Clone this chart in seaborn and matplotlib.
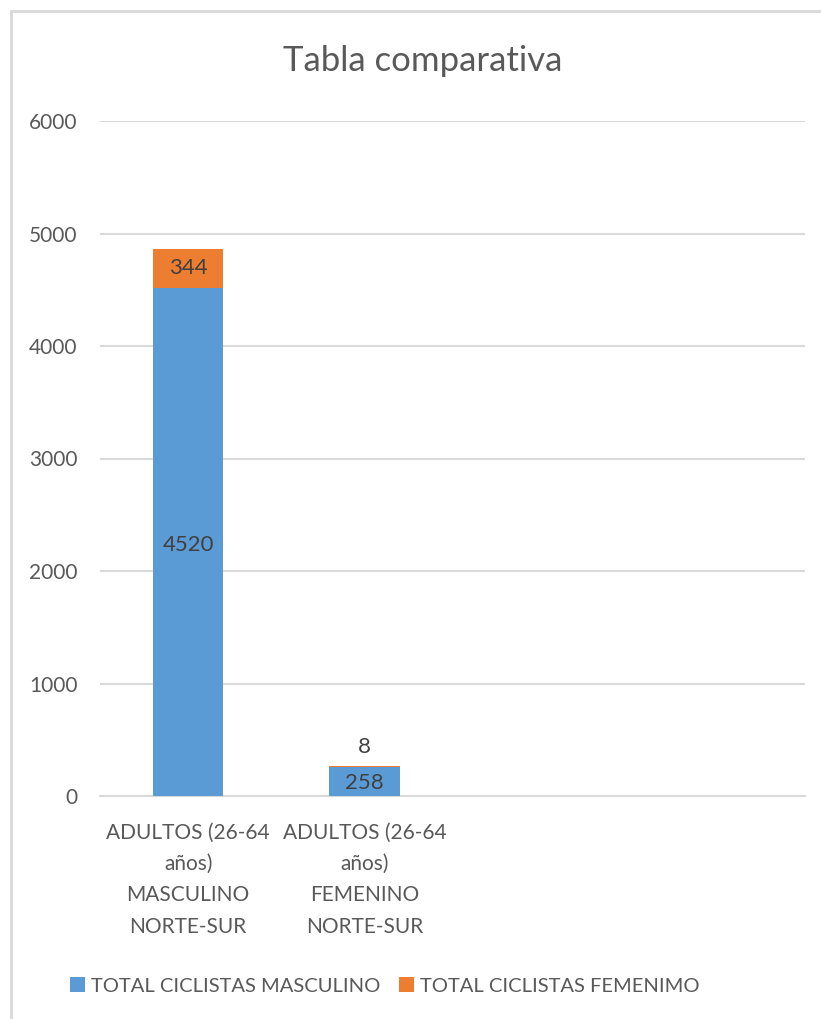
import matplotlib
matplotlib.use("Agg")
import matplotlib.pyplot as plt
from matplotlib.lines import Line2D
from matplotlib.patches import Patch
import seaborn as sns
import pandas as pd

# Data
categories = [
    "ADULTOS (26-64\naños)\nMASCULINO\nNORTE-SUR",
    "ADULTOS (26-64\naños)\nFEMENINO\nNORTE-SUR",
]
masculino = [4520, 258]
femenino = [344, 8]
series_names = ["TOTAL CICLISTAS MASCULINO", "TOTAL CICLISTAS FEMENIMO"]
y_ticks = [0, 1000, 2000, 3000, 4000, 5000, 6000]

BLUE = "#5B9BD5"
ORANGE = "#ED7D31"
TEXT = "#595959"
GRID = "#D9D9D9"

sns.set_theme(style="white")
plt.rcParams["font.family"] = ["Lato", "DejaVu Sans"]

df = pd.DataFrame({
    "cat": categories,
    "masc": masculino,
    "fem": femenino,
})
df["total"] = df["masc"] + df["fem"]

fig = plt.figure(figsize=(8.21, 10.19), dpi=100)
ax = fig.add_axes([100 / 821, 1 - 796 / 1019, 705 / 821, (796 - 121) / 1019])

# Stacked bars: full total in orange, masculine share overlaid in blue
sns.barplot(data=df, x="cat", y="total", order=categories, color=ORANGE,
            saturation=1, width=0.4, ax=ax, zorder=2, linewidth=0)
sns.barplot(data=df, x="cat", y="masc", order=categories, color=BLUE,
            saturation=1, width=0.4, ax=ax, zorder=3, linewidth=0)

ax.set_xlim(-0.5, 3.5)
ax.set_ylim(0, 6000)
ax.set_yticks(y_ticks)
ax.set_yticklabels([str(t) for t in y_ticks])
ax.set_xlabel("")
ax.set_ylabel("")
ax.yaxis.grid(True, color=GRID, linewidth=1.5, zorder=0)
ax.set_axisbelow(True)
for s in ["top", "right", "left"]:
    ax.spines[s].set_visible(False)
ax.spines["bottom"].set_color(GRID)
ax.spines["bottom"].set_linewidth(1.5)
ax.tick_params(axis="y", length=0, pad=16, labelsize=15, labelcolor=TEXT)
ax.tick_params(axis="x", length=0, pad=19, labelsize=15, labelcolor=TEXT)
for lbl in ax.get_xticklabels():
    lbl.set_linespacing(1.72)

# Value labels
for i, (m, f) in enumerate(zip(masculino, femenino)):
    ax.text(i, m / 2 - 30 if m > 1000 else m / 2 - 15, str(m), ha="center", va="center",
            fontsize=16, color="#404040", zorder=5)
    if f > 100:
        ax.text(i, m + f / 2, str(f), ha="center", va="center",
                fontsize=16, color="#404040", zorder=5)
    else:
        ax.text(i, m + f + 85, str(f), ha="center", va="bottom",
                fontsize=16, color="#404040", zorder=5)

fig.text(423 / 821, 1 - 61 / 1019, "Tabla comparativa", ha="center", va="center",
         fontsize=25, color=TEXT)

handles = [Patch(facecolor=BLUE, edgecolor="none"),
           Patch(facecolor=ORANGE, edgecolor="none")]
fig.legend(handles, series_names, loc="center", ncol=2,
           bbox_to_anchor=(385 / 821, 1 - 986 / 1019), frameon=False,
           fontsize=14.5, labelcolor=TEXT, handlelength=0.75, handleheight=0.75,
           handletextpad=0.3, columnspacing=0.9)

# Chart frame edges
fig.add_artist(Line2D([11 / 821, 11 / 821], [0, 1 - 11 / 1019],
                      transform=fig.transFigure, color=GRID, linewidth=2))
fig.add_artist(Line2D([11 / 821, 1], [1 - 11 / 1019, 1 - 11 / 1019],
                      transform=fig.transFigure, color=GRID, linewidth=2))

fig.savefig("out.png", dpi=100, facecolor="white")
